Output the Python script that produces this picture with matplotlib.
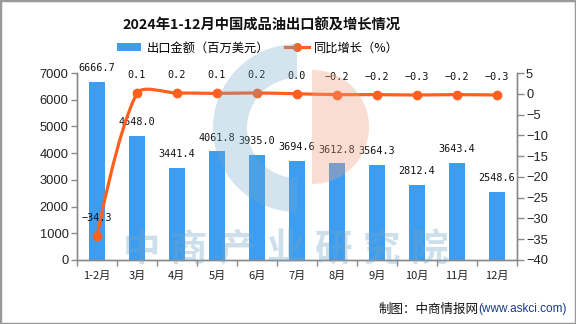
import matplotlib
matplotlib.use('Agg')
import matplotlib.pyplot as plt
from matplotlib.patches import Rectangle, Wedge, PathPatch, Patch
from matplotlib.path import Path
from matplotlib.lines import Line2D
import numpy as np

# ---------------- data ----------------
months = ['1-2月', '3月', '4月', '5月', '6月', '7月', '8月', '9月', '10月', '11月', '12月']
export_values = [6666.7, 4648.0, 3441.4, 4061.8, 3935.0, 3694.6, 3612.8, 3564.3, 2812.4, 3643.4, 2548.6]
growth = [-34.3, 0.1, 0.2, 0.1, 0.2, 0.0, -0.2, -0.2, -0.3, -0.2, -0.3]
left_ticks = list(range(0, 7001, 1000))
right_ticks = list(range(-40, 6, 5))

title = '2024年1-12月中国成品油出口额及增长情况'
bar_name = '出口金额（百万美元）'
line_name = '同比增长（%）'
footer_a = '制图：中商情报网'
footer_b = '(www.askci.com)'
watermark = '中商产业研究院'

CJK = ['Noto Sans CJK SC', 'DejaVu Sans']
MONO = 'DejaVu Sans Mono'
BAR_C = '#3d9df0'
LINE_C = '#ff5f1f'
AX_C = '#8a8a8a'

W, H = 576, 324
fig = plt.figure(figsize=(W / 100, H / 100), dpi=100)
fig.patch.set_facecolor('white')

ax = fig.add_axes([77 / W, 1 - 260 / H, 440 / W, 187 / H])
x = np.arange(len(months))
ax.bar(x, export_values, width=0.4, color=BAR_C, zorder=2)
ax.set_xlim(-0.5, len(months) - 0.5)
ax.set_ylim(0, 7000)
ax.set_yticks(left_ticks)
ax.set_yticklabels([str(v) for v in left_ticks], fontsize=9.3, family='Liberation Sans', color='#222222')
ax.set_xticks(x)
ax.set_xticklabels(months, family=CJK, fontsize=8, color='#222222')
ax.set_xticks(np.arange(-0.5, len(months), 1.0), minor=True)
ax.tick_params(axis='x', which='major', length=0, pad=8)
ax.tick_params(axis='x', which='minor', length=4.5, color=AX_C, width=1)
ax.tick_params(axis='y', length=4.5, color=AX_C, width=1, pad=1.5)
ax.spines['top'].set_visible(False)
for s in ['left', 'right', 'bottom']:
    ax.spines[s].set_color(AX_C)
    ax.spines[s].set_linewidth(1)

for xi, v in zip(x, export_values):
    ax.annotate(f'{v:.1f}', (xi, v), xytext=(0, 10), textcoords='offset points',
                ha='center', va='center', fontsize=7.3, family=MONO, color='#111111', zorder=6)

ax2 = ax.twinx()
ax2.set_ylim(-40, 5)
ax2.set_yticks(right_ticks)
ax2.set_yticklabels([str(v).replace('-', '\u2212') for v in right_ticks], fontsize=9.3,
                    family='Liberation Sans', color='#222222')
ax2.tick_params(axis='y', length=5, color=AX_C, width=1, pad=1.5)
ax2.spines['top'].set_visible(False)
for s in ['left', 'right', 'bottom']:
    ax2.spines[s].set_color(AX_C)
    ax2.spines[s].set_linewidth(1)

# smooth line (bezier through data points, control points in display space)
pts = ax2.transData.transform(np.column_stack([x, growth]))
smooth = 0.3
n = len(pts)
cps_after = []
cps_before = []
for i in range(n):
    p = pts[i]
    if i == 0 or i == n - 1:
        cps_before.append(p.copy())
        cps_after.append(p.copy())
        continue
    prev, nxt = pts[i - 1], pts[i + 1]
    v = nxt - prev
    d0 = np.hypot(*(p - prev))
    d1 = np.hypot(*(nxt - p))
    tot = d0 + d1
    cps_before.append(p - v * smooth * d0 / tot)
    cps_after.append(p + v * smooth * d1 / tot)
verts = [pts[0]]
codes = [Path.MOVETO]
for i in range(n - 1):
    verts += [cps_after[i], cps_before[i + 1], pts[i + 1]]
    codes += [Path.CURVE4] * 3
verts_data = ax2.transData.inverted().transform(np.array(verts))
ax2.add_patch(PathPatch(Path(verts_data, codes), fill=False, edgecolor=LINE_C, lw=2.3,
                        zorder=4, capstyle='round', joinstyle='round'))
ax2.plot(x, growth, linestyle='none', marker='o', markersize=6, color=LINE_C, zorder=5)
for xi, v in zip(x, growth):
    lab = f'{v:.1f}'.replace('-', '\u2212')
    ax2.annotate(lab, (xi, v), xytext=(0, 13), textcoords='offset points', ha='center',
                 va='center', fontsize=7.3, family=MONO, color='#111111', zorder=6)

# title & legend
fig.text(261 / W, 1 - 26 / H, title, ha='center', va='center', fontsize=10.3, fontweight='bold',
         family=CJK, color='#111111')
handles = [Patch(facecolor=BAR_C, edgecolor='none'),
           Line2D([], [], color=LINE_C, lw=2.3, marker='o', markersize=5.5)]
fig.legend(handles, [bar_name, line_name], loc='center', bbox_to_anchor=(258 / W, 1 - 48 / H),
           ncol=2, frameon=False, prop={'family': CJK, 'size': 8.8}, handlelength=2.0,
           handleheight=0.55, handletextpad=0.4, columnspacing=1.3)

# footer
t1 = fig.text(1 - 9 / W, 1 - 309 / H, footer_b, ha='right', va='center', fontsize=8.5,
              family='Liberation Sans', color='#1a3a8a')
ax.annotate(footer_a, xy=(0, 0.5), xycoords=t1, ha='right', va='center', fontsize=9,
            family=CJK, color='#111111', annotation_clip=False)

# watermark overlay
wm = fig.add_axes([0, 0, 1, 1], zorder=10)
wm.set_xlim(0, W)
wm.set_ylim(H, 0)
wm.axis('off')
wm.patch.set_alpha(0)
wm.add_patch(Wedge((297, 128), 84, 90, 270, width=34, facecolor=(0.45, 0.66, 0.79), alpha=0.3,
                   edgecolor='none'))
wm.add_patch(Wedge((312, 127), 57, -90, 90, facecolor=(0.94, 0.62, 0.5), alpha=0.35,
                   edgecolor='none'))
for i, ch in enumerate(watermark):
    wm.text(141 + 48 * i, 249, ch, ha='center', va='center', fontsize=27, fontweight='bold',
            family=CJK, color=(0.45, 0.66, 0.79), alpha=0.36)

# border
fig.add_artist(Rectangle((0, 0), 1, 1, transform=fig.transFigure, fill=False,
                         edgecolor='#9a9a9a', lw=2.5, zorder=20))

fig.savefig('out.png', dpi=100)
